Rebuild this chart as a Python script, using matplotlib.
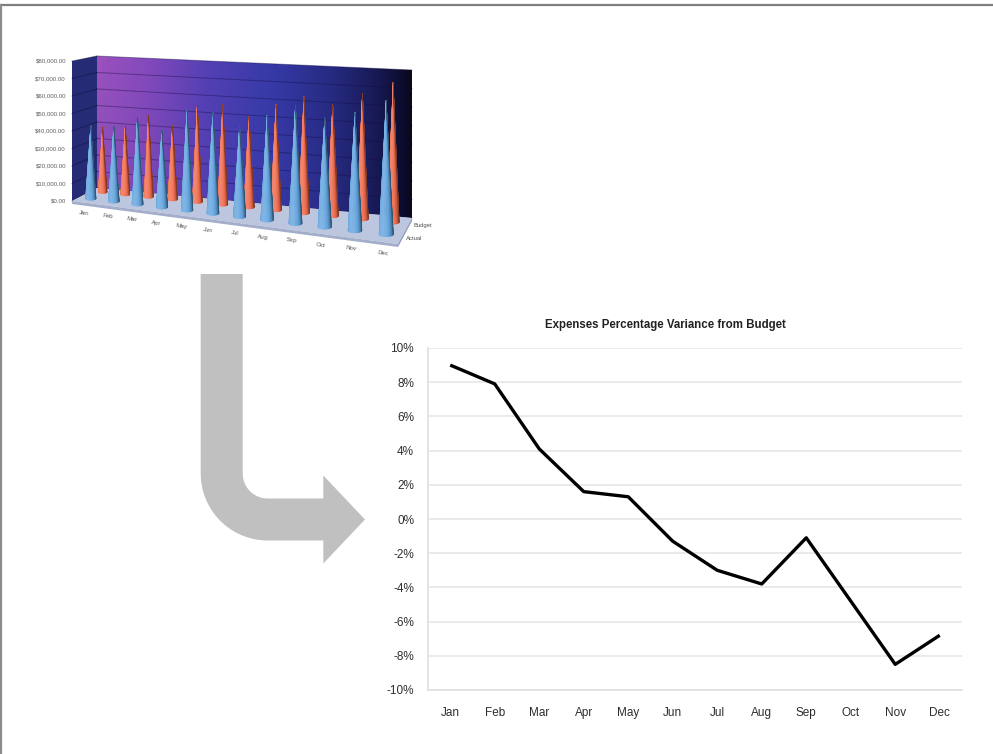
import numpy as np
import matplotlib
matplotlib.use("Agg")
import matplotlib.pyplot as plt
from matplotlib.patches import Polygon
from matplotlib.collections import PolyCollection
import matplotlib.ticker as mticker

# ---------------- data ----------------
months = ["Jan", "Feb", "Mar", "Apr", "May", "Jun",
          "Jul", "Aug", "Sep", "Oct", "Nov", "Dec"]
budget = [38800, 40000, 47700, 42600, 55600, 56700,
          51300, 58700, 64100, 60800, 67900, 74900]
actual = [42300, 43200, 49700, 43300, 56300, 56000,
          49800, 56500, 63400, 57900, 62100, 69800]
variance_pct = [9.0, 7.9, 4.1, 1.6, 1.3, -1.3, -3.0, -3.8, -1.1, -4.8, -8.5, -6.8]
cost_ticks = [0, 10000, 20000, 30000, 40000, 50000, 60000, 70000, 80000]
pct_ticks = [-10, -8, -6, -4, -2, 0, 2, 4, 6, 8, 10]
series_names = ["Budget", "Actual"]

plt.rcParams['font.family'] = ['Liberation Sans', 'DejaVu Sans']

W, H = 993, 754
fig = plt.figure(figsize=(W / 100, H / 100), dpi=100)
fig.patch.set_facecolor("white")

# drawing layer in pixel units (y grows downwards)
art = fig.add_axes([0, 0, 1, 1])
art.set_xlim(0, W)
art.set_ylim(H, 0)
art.axis("off")

# page frame
art.plot([0, W], [5, 5], color="#7f7f7f", lw=1.6, zorder=1)
art.plot([0.8, 0.8], [5, H], color="#8c8c8c", lw=1.6, zorder=1)

# ---------------- small 3-D cone chart ----------------
N = len(months)
VMAX = cost_ticks[-1]
F0, F1 = np.array([72.0, 201.0]), np.array([398.0, 244.0])   # floor front edge
B0, B1 = np.array([97.0, 188.0]), np.array([412.0, 218.0])   # floor back edge
WALL_H0, WALL_H1 = 132.0, 148.0                              # wall height left/right
C_PERSP = 0.0139


def warp(u):
    s = u + 0.5
    return (s / (1 - C_PERSP * s)) / (N / (1 - C_PERSP * N))


def floor_pt(u, r):
    t = warp(u)
    front = F0 + t * (F1 - F0)
    back = B0 + t * (B1 - B0)
    return (1 - r) * front + r * back, t


def px_per_unit(t, r):
    wall_h = WALL_H0 + t * (WALL_H1 - WALL_H0)
    return wall_h / VMAX * (1 + 0.06 * (1 - r))


# back wall with colour gradient
top0 = B0 - np.array([0, VMAX * px_per_unit(0, 1)])
top1 = B1 - np.array([0, VMAX * px_per_unit(1, 1)])
stops_f = [0.0, 0.15, 0.35, 0.55, 0.75, 0.9, 1.0]
stops_c = np.array([[155, 82, 190], [134, 74, 188], [84, 64, 180], [54, 58, 168],
                    [38, 42, 128], [22, 24, 80], [8, 8, 30]]) / 255.0
gx = np.linspace(0, 1, 240)
gy = np.linspace(0, 1, 120)
row = np.stack([np.interp(gx, stops_f, stops_c[:, c]) for c in range(3)], axis=-1)
img = np.repeat(row[None, :, :], len(gy), axis=0)
fade = (gy[:, None] * (1 - gx[None, :]) * 0.22)[..., None]
img = img * (1 - fade) + np.array([60, 55, 160])[None, None, :] / 255.0 * fade
wall = Polygon([B0, B1, top1, top0], closed=True, facecolor="none", edgecolor="none")
art.add_patch(wall)
im = art.imshow(img, extent=(B0[0], B1[0], B1[1] + 2, top0[1] - 2), origin="upper",
                aspect="auto", zorder=1, interpolation="bilinear")
im.set_clip_path(wall)

# side wall
side_top_front = F0 - np.array([0, VMAX * px_per_unit(0, 0)])
art.add_patch(Polygon([F0, B0, top0, side_top_front], closed=True,
                      facecolor="#252b74", edgecolor="none", zorder=1))

# wall gridlines and value labels
for v in cost_ticks:
    a = B0 - np.array([0, v * px_per_unit(0, 1)])
    b = B1 - np.array([0, v * px_per_unit(1, 1)])
    c = F0 - np.array([0, v * px_per_unit(0, 0)])
    art.plot([a[0], b[0]], [a[1], b[1]], color=(0.08, 0.04, 0.25, 0.4), lw=0.7, zorder=2)
    art.plot([c[0], a[0]], [c[1], a[1]], color=(0.05, 0.05, 0.2, 0.45), lw=0.7, zorder=2)
    art.text(c[0] - 6, c[1], "${:,.2f}".format(v), ha="right", va="center",
             fontsize=4.4, color="#606060", zorder=2)

# floor
art.add_patch(Polygon([F0, F1, B1, B0], closed=True, facecolor="#bcc6de",
                      edgecolor="none", zorder=3))
art.add_patch(Polygon([F0, F1, F1 + [0, 3], F0 + [0, 3]], closed=True,
                      facecolor="#a3aecb", edgecolor="none", zorder=3))
art.add_patch(Polygon([F1, B1, B1 + [0, 3], F1 + [0, 3]], closed=True,
                      facecolor="#8e9abb", edgecolor="none", zorder=3))


def shade(rgb, k):
    rgb = np.asarray(rgb)
    if k <= 1:
        return tuple(rgb * k)
    return tuple(rgb + (1 - rgb) * min(k - 1, 1))


def draw_cone(value, u, r, rgb, radius0, z):
    (bx, by), t = floor_pt(u, r)
    h = value * px_per_unit(t, r)
    rb = radius0 * (1 + 0.4 * t)
    tip = (bx, by - h)
    th = np.linspace(-np.pi / 2, np.pi / 2, 26)
    ex = bx + rb * np.sin(th)
    ey = by + rb * 0.35 * np.cos(th)
    polys, cols = [], []
    for k in range(len(th) - 1):
        polys.append([tip, (ex[k], ey[k]), (ex[k + 1], ey[k + 1])])
        a = 0.5 * (th[k] + th[k + 1])
        cols.append(shade(rgb, 0.74 + 0.45 * np.cos(a + 0.55)))
    pc = PolyCollection(polys, facecolors=cols, edgecolors=cols, linewidths=0.35, zorder=z)
    art.add_collection(pc)


orange = (0.94, 0.42, 0.30)
blue = (0.38, 0.64, 0.87)
for i in range(N):
    draw_cone(budget[i], i, 0.78, orange, 4.4, 4 + i * 0.01)
for i in range(N):
    draw_cone(actual[i], i, 0.30, blue, 5.2, 5 + i * 0.01)

# category and series labels
for i, m in enumerate(months):
    (lx, ly), _ = floor_pt(i, 0.0)
    art.text(lx + 1, ly + 11, m, ha="center", va="center", rotation=-8,
             rotation_mode="anchor", fontsize=4.4, color="#505050", zorder=6)
for name, r in zip(series_names, [0.8, 0.3]):
    (sx, sy), _ = floor_pt(N - 0.5, r)
    art.text(sx + 4, sy + 2, name, ha="left", va="center", fontsize=4.2,
             color="#505050", zorder=6)

# ---------------- bent arrow ----------------
cx, cy = 267.7, 473.5
r_out, r_in = 67.0, 25.0
x_out, x_in = cx - r_out, cx - r_in
y_top = 274.0
head_x, tip_x = 323.3, 365.0
mid_y = (cy + r_in + cy + r_out) / 2
pts = [(x_out, y_top), (x_out, cy)]
for a in np.linspace(np.pi, np.pi / 2, 30):
    pts.append((cx + r_out * np.cos(a), cy + r_out * np.sin(a)))
pts += [(head_x, cy + r_out), (head_x, mid_y + 44), (tip_x, mid_y),
        (head_x, mid_y - 44), (head_x, cy + r_in)]
for a in np.linspace(np.pi / 2, np.pi, 30):
    pts.append((cx + r_in * np.cos(a), cy + r_in * np.sin(a)))
pts.append((x_in, y_top))
art.add_patch(Polygon(pts, closed=True, facecolor="#c0c0c0", edgecolor="none", zorder=1))

# ---------------- variance line chart ----------------
left, right, top, bottom = 428, 962, 348, 690
ax = fig.add_axes([left / W, 1 - bottom / H, (right - left) / W, (bottom - top) / H])
ax.set_facecolor("none")
x = np.arange(N)
ax.plot(x, variance_pct, color="black", lw=2.4, solid_joinstyle="round",
        solid_capstyle="butt", zorder=3)
ax.set_xlim(-0.5, N - 0.5)
ax.set_ylim(pct_ticks[0], pct_ticks[-1])
ax.set_yticks(pct_ticks)
ax.yaxis.set_major_formatter(mticker.FuncFormatter(lambda v, p: f"{v:.0f}%"))
ax.set_xticks(x)
ax.set_xticklabels(months)
ax.grid(axis="y", color="#e8e8e8", lw=1.3, zorder=0)
ax.set_axisbelow(True)
for s in ["top", "right"]:
    ax.spines[s].set_visible(False)
ax.spines["left"].set_color("#e2e2e2")
ax.spines["left"].set_linewidth(1.3)
ax.spines["bottom"].set_color("#e2e2e2")
ax.spines["bottom"].set_linewidth(1.3)
ax.tick_params(axis="both", length=0, labelsize=8.5, colors="#2e2e2e")
ax.tick_params(axis="y", pad=10)
ax.tick_params(axis="x", pad=12)

fig.text(665 / W, 1 - 325 / H, "Expenses Percentage Variance from Budget",
         ha="center", va="center", fontsize=8.3, fontweight="bold", color="#222222")

fig.savefig("out.png", dpi=100)
